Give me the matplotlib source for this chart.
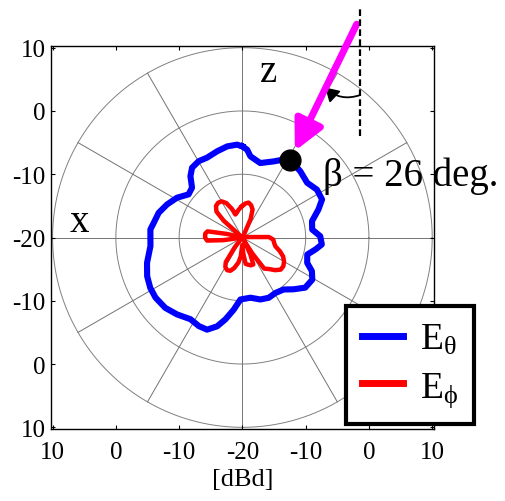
"""Polar radiation pattern (E-theta / E-phi) drawn MATLAB-style on cartesian axes."""

import numpy as np
import matplotlib
matplotlib.use("Agg")
import matplotlib.pyplot as plt
from matplotlib.lines import Line2D

plt.rcParams['font.family'] = ['Liberation Serif', 'DejaVu Serif']
plt.rcParams['mathtext.fontset'] = 'custom'
plt.rcParams['mathtext.rm'] = 'Liberation Serif'
plt.rcParams['mathtext.it'] = 'Liberation Serif'

# angle measured clockwise from the z axis [deg], gain [dBd]
theta_angles = [0, 3.1, 5.6, 13.5, 22.3, 27.7, 31.8, 41.2, 49.8, 57.3, 64.5, 69.8,
                76.8, 83.5, 89.0, 95.0, 99.3, 104.7, 111.4, 115.8, 121.1, 128.6,
                135.4, 141.5, 149.2, 156.4, 163.8, 172.4, 181.8, 186.9, 191.7,
                195.9, 201.0, 206.2, 212.4, 220.3, 227.6, 235.3, 241.3, 247.9,
                255.1, 264.6, 275.0, 279.4, 286.4, 293.7, 301.3, 308.7, 314.7,
                319.7, 324.2, 330.2, 336.1, 343.7, 350.5, 356.7]
e_theta = [-5.6, -6.1, -7.1, -7.9, -7.0, -6.1, -5.6, -6.1, -6.6, -6.0, -6.05,
           -7.2, -8.7, -8.9, -7.7, -7.4, -8.3, -9.4, -9.0, -7.8, -7.1, -7.3,
           -8.5, -9.5, -9.8, -9.6, -9.8, -10.4, -10.2, -8.5, -6.8, -5.4,
           -4.4, -4.4, -4.7, -4.05, -3.5, -3.3, -3.4, -3.75, -4.4, -5.4,
           -5.4, -5.8, -6.2, -7.0, -7.9, -9.1, -8.8, -7.3, -6.4, -6.1, -6.2,
           -5.8, -5.4, -5.3]

phi_angles = [0, 5, 10, 15, 20, 24, 28, 40, 80, 86, 89, 94, 100, 105, 110, 115,
              120, 125, 130, 135, 140, 145, 148, 151, 155, 158, 163, 168, 173,
              177, 181, 185, 189, 195, 200, 205, 210, 214, 218, 222, 258, 262,
              265, 270, 276, 280, 283, 287, 308, 312, 315, 320, 325, 330, 335,
              340, 343, 347, 352, 356]
e_phi = [-15.0, -14.6, -14.4, -14.7, -15.3, -16.8, -19.5, -19.8, -19.8, -19.0,
         -15.8, -15.1, -14.9, -14.6, -13.7, -12.9, -12.4, -12.1, -12.1, -12.7,
         -13.5, -14.0, -17.0, -19.3, -17.0, -15.4, -15.4, -15.6, -15.8, -17.5,
         -18.8, -17.0, -16.0, -15.0, -14.4, -14.3, -14.6, -15.3, -18.0, -19.8,
         -19.8, -17.0, -14.4, -14.1, -14.1, -14.4, -17.5, -19.8, -19.8, -16.0,
         -14.2, -13.5, -13.3, -13.4, -14.0, -15.2, -16.2, -16.0, -15.6, -15.3]

r_min = -20          # dBd at the centre
r_ticks = [-10, 0, 10]
beta = 26            # deg
beta_dot = (31.8, -5.6)   # marker on the E-theta curve (angle, dBd)


def to_xy(ang, gain):
    a = np.radians(np.asarray(ang, dtype=float))
    r = np.clip(np.asarray(gain, dtype=float) - r_min, 0, None)
    return r * np.sin(a), r * np.cos(a)


fig = plt.figure(figsize=(5.05, 5.02), dpi=100)
ax = fig.add_axes([0.101, 0.1434, 0.758, 0.763])
rmax = r_ticks[-1] - r_min

# grid: circles and spokes
t = np.linspace(0, 2 * np.pi, 400)
for rt in r_ticks:
    ax.plot((rt - r_min) * np.cos(t), (rt - r_min) * np.sin(t), color='0.5', lw=0.7, zorder=1)
for sp in range(0, 180, 30):
    s, c = np.sin(np.radians(sp)), np.cos(np.radians(sp))
    ax.plot([-rmax * s, rmax * s], [-rmax * c, rmax * c], color='0.45', lw=0.7, zorder=1)

# patterns (closed curves)
xt, yt = to_xy(theta_angles + [theta_angles[0] + 360], e_theta + [e_theta[0]])
ax.plot(xt, yt, color='#0000ff', lw=4.4, solid_joinstyle='round', zorder=3)
xp, yp = to_xy(phi_angles + [360], e_phi + [e_phi[0]])
ax.plot(xp, yp, color='#ff0000', lw=3.2, solid_joinstyle='round', zorder=3)

# beta marker and arrow
dx, dy = to_xy(beta_dot[0], beta_dot[1])
ax.plot(dx, dy, 'o', color='black', ms=15, zorder=5)
sb, cb = np.sin(np.radians(beta)), np.cos(np.radians(beta))
tip = (dx + 1.6 * sb, dy + 1.6 * cb)
tail = (dx + 23.9 * sb, dy + 23.9 * cb)
ax.annotate('', xy=tip, xytext=tail, annotation_clip=False,
            arrowprops=dict(arrowstyle='-|>,head_length=0.9,head_width=0.45',
                            color='#ff00ff', lw=5, mutation_scale=20,
                            shrinkA=0, shrinkB=0), zorder=6)
# vertical reference line and small angle arrow
vx = tail[0] + 0.5
ax.plot([vx, vx], [16.0, 36.3], color='black', lw=1.6, ls=(0, (3, 1.5)), clip_on=False, zorder=6)
ax.annotate('', xy=(13.1, 23.7), xytext=(vx, 22.5), annotation_clip=False,
            arrowprops=dict(arrowstyle='-|>,head_length=0.5,head_width=0.3',
                            color='black', lw=1.3, mutation_scale=16,
                            connectionstyle='arc3,rad=-0.3', shrinkA=0, shrinkB=0))

ax.text(12.7, 9.8, 'β = 26 deg.', fontsize=28,
        ha='left', va='center', zorder=7, clip_on=False)
ax.text(4.1, 26.2, 'z', fontsize=28, ha='center', va='center')
ax.text(-25.8, 2.5, 'x', fontsize=28, ha='center', va='center')

# axes styling
lim = 30.25
ax.set_xlim(-lim, lim)
ax.set_ylim(-lim, lim)
ax.set_aspect('equal')
ticks = np.arange(-rmax, rmax + 1, 10)
labels = [str(int(abs(v) + r_min)) for v in ticks]
ax.set_xticks(ticks)
ax.set_xticklabels(labels)
ax.set_yticks(ticks)
ax.set_yticklabels(labels)
ax.tick_params(direction='in', length=3, width=0.8, top=True, right=True,
               labelsize=18, pad=4)
ax.tick_params(axis='x', pad=9)
for s in ax.spines.values():
    s.set_linewidth(1.0)
ax.set_xlabel('[dBd]', fontsize=19, labelpad=3)

handles = [Line2D([], [], color='#0000ff', lw=5),
           Line2D([], [], color='#ff0000', lw=5)]
leg = fig.legend(handles, [r'E$_{\mathrm{θ}}$', r'E$_{\mathrm{ϕ}}$'],
                 loc='center', bbox_to_anchor=(0.812, 0.27), fontsize=27,
                 handlelength=1.1, handletextpad=0.45, labelspacing=0.35,
                 borderpad=0.42, fancybox=False, framealpha=1, edgecolor='black')
leg.get_frame().set_linewidth(3)

fig.savefig('out.png', dpi=100)
